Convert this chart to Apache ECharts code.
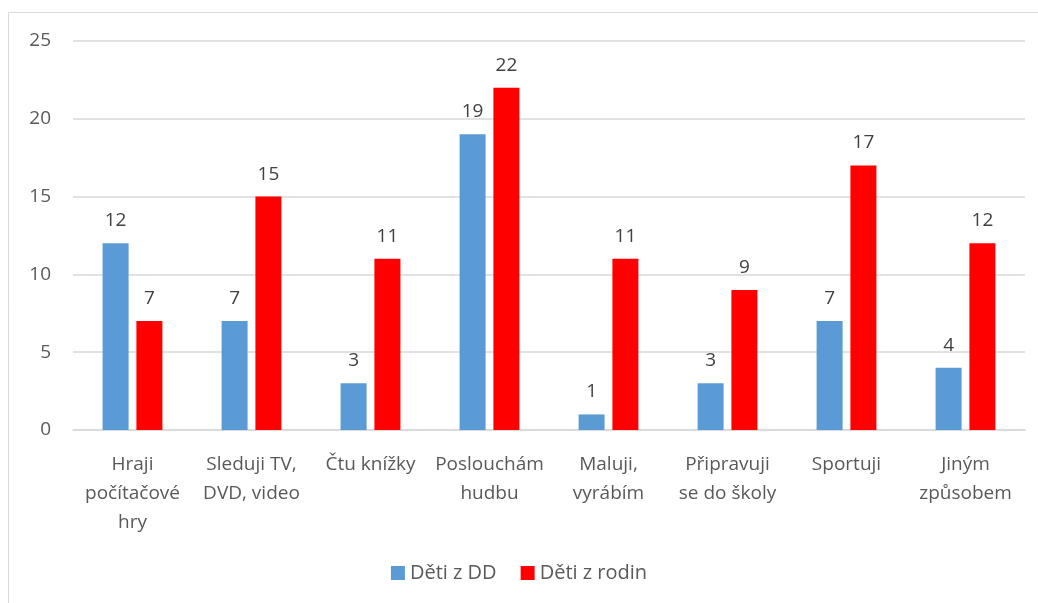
<!DOCTYPE html>
<html>
<head>
<meta charset="utf-8">
<script src="https://cdn.jsdelivr.net/npm/echarts@6/dist/echarts.min.js"></script>
<style>
html,body{margin:0;padding:0;background:#fff;}
#chart{width:1038px;height:603px;}
</style>
</head>
<body>
<div id="chart"></div>
<script>
// kategorie a hodnoty
var categories = ['Hraji\npočítačové\nhry', 'Sleduji TV,\nDVD, video', 'Čtu knížky', 'Poslouchám\nhudbu', 'Maluji,\nvyrábím', 'Připravuji\nse do školy', 'Sportuji', 'Jiným\nzpůsobem'];
var deti_dd = [12, 7, 3, 19, 1, 3, 7, 4];
var deti_rodin = [7, 15, 11, 22, 11, 9, 17, 12];
var series_names = ['Děti z DD', 'Děti z rodin'];
var y_ticks = [0, 5, 10, 15, 20, 25];

var font = 'Open Sans, Liberation Sans, sans-serif';
var myChart = echarts.init(document.getElementById('chart'));
var label_style = {show: true, position: 'top', distance: 13, color: '#404040', fontSize: 19, fontFamily: font};
var option = {
	animation: false,
	graphic: [{
		type: 'rect', shape: {x: 8.5, y: 12.5, width: 1100, height: 700},
		style: {fill: null, stroke: '#d9d9d9', lineWidth: 1}, silent: true
	}],
	grid: {left: 73, right: 13, top: 41, bottom: 173, containLabel: false},
	legend: {
		data: series_names, bottom: 15, left: 'center', itemWidth: 14, itemHeight: 14, itemGap: 24,
		icon: 'rect', textStyle: {color: '#595959', fontSize: 20, fontFamily: font}
	},
	xAxis: {
		type: 'category', data: categories,
		axisLine: {lineStyle: {color: '#d9d9d9', width: 1.5}},
		axisTick: {show: false},
		axisLabel: {color: '#595959', fontSize: 19, fontFamily: font, lineHeight: 29, margin: 20, interval: 0}
	},
	yAxis: {
		type: 'value', min: y_ticks[0], max: y_ticks[y_ticks.length - 1], interval: 5,
		axisLine: {show: false}, axisTick: {show: false},
		splitLine: {lineStyle: {color: '#d9d9d9', width: 1.5}},
		axisLabel: {color: '#595959', fontSize: 19, fontFamily: font, margin: 22}
	},
	series: [
		{name: series_names[0], type: 'bar', data: deti_dd, barWidth: 26, barGap: '30%', itemStyle: {color: '#5b9bd5'}, label: label_style},
		{name: series_names[1], type: 'bar', data: deti_rodin, barWidth: 26, itemStyle: {color: '#ff0000'}, label: label_style}
	]
};
myChart.setOption(option);
</script>
</body>
</html>
